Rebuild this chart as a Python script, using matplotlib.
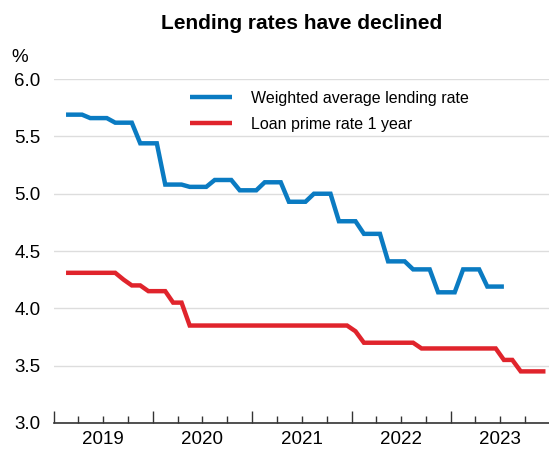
import matplotlib
matplotlib.use('Agg')
import matplotlib.pyplot as plt
import matplotlib.dates as mdates
import pandas as pd

plt.rcParams['font.family'] = ['Liberation Sans', 'DejaVu Sans']

# --- data (monthly, plotted mid-month) ---
# weighted average lending rate, Feb 2019 - Jul 2023
wal_2019 = [5.69, 5.69, 5.69, 5.66, 5.66, 5.66, 5.62, 5.62, 5.62, 5.44, 5.44]
wal_2020 = [5.44, 5.08, 5.08, 5.08, 5.06, 5.06, 5.06, 5.12, 5.12, 5.12, 5.03, 5.03]
wal_2021 = [5.03, 5.10, 5.10, 5.10, 4.93, 4.93, 4.93, 5.00, 5.00, 5.00, 4.76, 4.76]
wal_2022 = [4.76, 4.65, 4.65, 4.65, 4.41, 4.41, 4.41, 4.34, 4.34, 4.34, 4.14, 4.14]
wal_2023 = [4.14, 4.34, 4.34, 4.34, 4.19, 4.19, 4.19]

# loan prime rate 1 year, Feb 2019 - Dec 2023
lpr_2019 = [4.31, 4.31, 4.31, 4.31, 4.31, 4.31, 4.31, 4.25, 4.20, 4.20, 4.15]
lpr_2020 = [4.15, 4.15, 4.05, 4.05, 3.85, 3.85, 3.85, 3.85, 3.85, 3.85, 3.85, 3.85]
lpr_2021 = [3.85, 3.85, 3.85, 3.85, 3.85, 3.85, 3.85, 3.85, 3.85, 3.85, 3.85, 3.85]
lpr_2022 = [3.80, 3.70, 3.70, 3.70, 3.70, 3.70, 3.70, 3.70, 3.65, 3.65, 3.65, 3.65]
lpr_2023 = [3.65, 3.65, 3.65, 3.65, 3.65, 3.65, 3.55, 3.55, 3.45, 3.45, 3.45, 3.45]

wal = wal_2019 + wal_2020 + wal_2021 + wal_2022 + wal_2023
lpr = lpr_2019 + lpr_2020 + lpr_2021 + lpr_2022 + lpr_2023

start_month = '2019-02-01'
wal_dates = pd.date_range(start_month, periods=len(wal), freq='MS') + pd.Timedelta(days=14)
lpr_dates = pd.date_range(start_month, periods=len(lpr), freq='MS') + pd.Timedelta(days=14)

series_labels = ['Weighted average lending rate', 'Loan prime rate 1 year']
BLUE = '#0a7bc2'
RED = '#e0242c'

# --- plot ---
fig = plt.figure(figsize=(5.49, 4.71), dpi=100)
ax = fig.add_axes([0.098, 0.102, 0.904, 0.730])

ax.plot(wal_dates, wal, color=BLUE, lw=3.2, label=series_labels[0],
        solid_joinstyle='miter', solid_capstyle='butt')
ax.plot(lpr_dates, lpr, color=RED, lw=3.2, label=series_labels[1],
        solid_joinstyle='miter', solid_capstyle='butt')

ax.set_ylim(3.0, 6.0)
ax.set_yticks([3.0, 3.5, 4.0, 4.5, 5.0, 5.5, 6.0])
ax.yaxis.set_major_formatter(plt.FormatStrFormatter('%.1f'))
ax.set_xlim(pd.Timestamp('2019-01-01'), pd.Timestamp('2024-01-01'))

# year ticks at Jan, quarter ticks in between, year labels at mid-year
ax.xaxis.set_major_locator(mdates.YearLocator())
ax.xaxis.set_major_formatter(plt.NullFormatter())
ax.xaxis.set_minor_locator(mdates.MonthLocator(bymonth=[4, 7, 10]))
ax.xaxis.set_minor_formatter(plt.FuncFormatter(
    lambda v, p: mdates.num2date(v).strftime('%Y') if mdates.num2date(v).month == 7 else ''))

ax.tick_params(axis='x', which='major', direction='in', length=9, width=1, color='#333333')
ax.tick_params(axis='x', which='minor', direction='in', length=5, width=1, color='#333333',
               labelsize=13.5, pad=6)
ax.tick_params(axis='y', length=0, labelsize=13.5, pad=9.5)

ax.grid(axis='y', color='#dddddd', lw=1)
ax.set_axisbelow(True)
for s in ['top', 'right', 'left']:
    ax.spines[s].set_visible(False)
ax.spines['bottom'].set_color('#333333')
ax.spines['bottom'].set_linewidth(1.2)

fig.text(0.036, 0.877, '%', fontsize=13.5, ha='center', va='center')
fig.suptitle('Lending rates have declined', fontsize=15, fontweight='bold', x=0.55, y=0.97)

ax.legend(loc='upper left', bbox_to_anchor=(190 / 549, (471 - 91) / 471),
          bbox_transform=fig.transFigure, frameon=False, fontsize=11.5,
          handlelength=2.65, handletextpad=1.2, labelspacing=0.68,
          borderpad=0, borderaxespad=0)

plt.savefig('out.png', dpi=100)
plt.close()
